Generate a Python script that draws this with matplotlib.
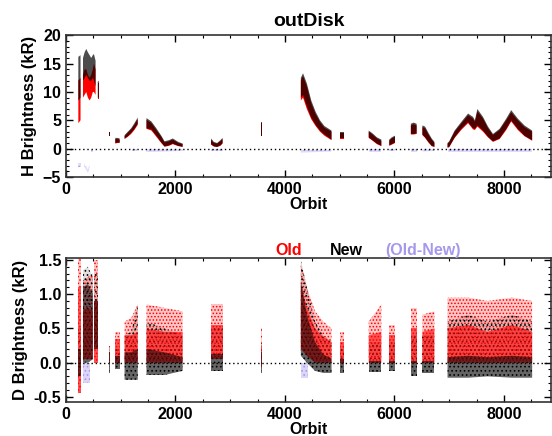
import matplotlib
matplotlib.use("Agg")
import matplotlib.pyplot as plt
import numpy as np
from matplotlib.ticker import MultipleLocator

plt.rcParams['font.family'] = ['Liberation Sans', 'DejaVu Sans']
plt.rcParams['font.weight'] = 'bold'
plt.rcParams['hatch.linewidth'] = 0.7

nan = np.nan

# H panel: orbit anchors (nan = gap between observing periods), new (black) and old (red) envelopes
h_orbit = [225, 265, nan, 310, 340, 370, 400, 430, 460, 490, 510, 540, nan, 580, 600, nan,
           790, 810, nan, 900, 940, 980, nan, 1070, 1130, 1190, 1250, 1310, nan,
           1470, 1560, 1650, 1740, 1800, 1880, 1950, 2050, 2130, nan,
           2650, 2700, 2760, 2820, 2860, nan, 3555, 3575, nan,
           4290, 4330, 4400, 4480, 4560, 4640, 4720, 4850, nan, 5010, 5070, nan,
           5530, 5600, 5680, 5760, nan, 5905, 5950, 6010, nan, 6300, 6350, 6405, nan,
           6510, 6560, 6620, 6680, 6730, nan,
           6970, 7000, 7100, 7220, 7345, 7436, 7470, 7515, 7618, 7709, 7800, 7921, 8042, 8133, 8254, 8375, 8515]
h_new_lo = [8.5, 9.0, nan, 12.0, 12.5, 13.0, 12.5, 12.0, 12.0, 12.5, 12.0, 11.0, nan, 9.0, 9.0, nan,
            2.3, 2.3, nan, 1.0, 1.1, 1.1, nan, 1.8, 2.2, 2.8, 3.5, 4.4, nan,
            3.6, 3.4, 2.3, 1.1, 0.4, 0.6, 0.9, 0.5, 0.35, nan,
            0.8, 0.4, 0.3, 0.6, 1.0, nan, 2.3, 2.3, nan,
            9.0, 9.5, 7.5, 5.5, 4.2, 3.2, 2.5, 1.6, nan, 1.8, 1.8, nan,
            2.0, 1.5, 0.9, 0.5, nan, 0.6, 0.8, 1.1, nan, 2.6, 2.6, 2.7, nan,
            2.5, 2.0, 1.2, 0.5, 0.35, nan,
            0.2, 0.3, 2.0, 3.5, 4.7, 3.6, 3.5, 4.1, 3.2, 2.1, 1.3, 1.8, 3.5, 5.0, 3.5, 2.3, 1.5]
h_new_hi = [16.2, 16.5, nan, 16.0, 17.0, 17.6, 17.0, 16.5, 16.0, 16.5, 16.7, 15.5, nan, 11.8, 12.0, nan,
            3.0, 3.0, nan, 1.9, 1.9, 1.8, nan, 2.4, 3.0, 3.6, 4.5, 5.5, nan,
            5.4, 4.8, 3.6, 2.3, 1.3, 1.5, 1.8, 1.2, 0.9, nan,
            1.8, 1.2, 1.0, 1.5, 1.9, nan, 4.7, 4.7, nan,
            12.5, 13.3, 11.5, 8.5, 6.5, 5.0, 4.0, 3.2, nan, 3.0, 3.0, nan,
            3.2, 2.7, 2.0, 1.6, nan, 1.6, 2.0, 2.3, nan, 4.4, 4.6, 4.4, nan,
            4.1, 3.9, 2.8, 1.8, 1.2, nan,
            1.0, 1.3, 3.2, 4.7, 6.2, 5.6, 5.0, 7.0, 5.6, 3.9, 2.6, 3.5, 5.3, 6.8, 5.3, 4.1, 3.2]
h_old_lo = [4.5, 5.0, nan, 9.0, 9.5, 10.0, 9.0, 8.5, 9.0, 10.0, 10.0, 9.5, nan, 8.8, 8.8, nan,
            2.3, 2.3, nan, 0.9, 1.0, 1.0, nan, 1.7, 2.1, 2.6, 3.3, 4.2, nan,
            3.5, 3.2, 2.1, 1.0, 0.35, 0.5, 0.8, 0.45, 0.3, nan,
            0.7, 0.4, 0.3, 0.5, 0.9, nan, 2.3, 2.3, nan,
            8.5, 9.0, 7.0, 5.2, 4.0, 3.0, 2.3, 1.5, nan, 1.7, 1.7, nan,
            1.9, 1.4, 0.8, 0.45, nan, 0.5, 0.7, 1.0, nan, 2.5, 2.5, 2.6, nan,
            2.4, 1.9, 1.1, 0.45, 0.3, nan,
            0.2, 0.25, 1.9, 3.3, 4.5, 3.4, 3.3, 3.9, 3.0, 2.0, 1.2, 1.7, 3.3, 4.8, 3.3, 2.2, 1.4]
h_old_hi = [12.0, 12.5, nan, 13.0, 14.0, 14.0, 13.0, 12.5, 13.0, 14.0, 15.0, 14.0, nan, 11.5, 11.5, nan,
            2.9, 2.9, nan, 1.7, 1.7, 1.6, nan, 2.2, 2.8, 3.4, 4.2, 5.2, nan,
            5.1, 4.5, 3.3, 2.1, 1.1, 1.3, 1.6, 1.0, 0.8, nan,
            1.6, 1.0, 0.9, 1.3, 1.7, nan, 4.5, 4.5, nan,
            12.0, 12.8, 11.0, 8.0, 6.1, 4.7, 3.7, 3.0, nan, 2.8, 2.8, nan,
            3.0, 2.5, 1.8, 1.4, nan, 1.4, 1.8, 2.1, nan, 4.1, 4.3, 4.1, nan,
            3.8, 3.6, 2.5, 1.6, 1.0, nan,
            0.9, 1.1, 3.0, 4.4, 5.9, 5.3, 4.7, 6.6, 5.3, 3.6, 2.4, 3.3, 5.0, 6.4, 5.0, 3.8, 3.0]

# H panel difference (Old-New)
hd_orbit = [225, 265, nan, 330, 370, 400, 430, nan, 460, 500, nan, 790, 810, nan, 1200, 1300, nan,
            1470, 2130, nan, 2650, 2860, nan, 4290, 4850, nan, 5530, 5760, nan, 5905, 6010, nan,
            6300, 6405, nan, 6510, 6730, nan, 6970, 8515]
hd_lo = [-3.3, -3.3, nan, -3.1, -3.7, -4.3, -3.3, nan, -0.6, -0.6, nan, -0.3, -0.3, nan, -0.4, -0.4, nan,
         -0.6, -0.4, nan, -0.4, -0.4, nan, -0.7, -0.5, nan, -0.5, -0.5, nan, -0.4, -0.4, nan,
         -0.5, -0.5, nan, -0.5, -0.4, nan, -0.6, -0.6]
hd_hi = [-2.6, -2.6, nan, -2.7, -3.2, -3.7, -2.8, nan, -0.2, -0.2, nan, 0.0, 0.0, nan, -0.1, -0.1, nan,
         -0.1, -0.1, nan, -0.1, -0.1, nan, -0.2, -0.2, nan, -0.1, -0.1, nan, -0.1, -0.1, nan,
         -0.1, -0.1, nan, -0.1, -0.1, nan, -0.1, -0.1]

# D panel: full (sparse) extent and top of the dense core for old and new
d_orbit = [225, 265, nan, 310, 400, 490, nan, 510, 590, nan, 790, 810, nan, 900, 980, nan,
           1070, 1190, 1310, nan, 1470, 1800, 2130, nan, 2650, 2860, nan, 3555, 3575, nan,
           4290, 4400, 4550, 4700, 4850, nan, 5010, 5070, nan, 5530, 5760, nan, 5905, 6010, nan,
           6300, 6405, nan, 6510, 6730, nan, 6970, 7350, 7700, 8150, 8515]
d_old_lo = [-0.45, -0.45, nan, 0.05, 0.05, 0.05, nan, 0.0, 0.0, nan, 0.0, 0.0, nan, 0.0, 0.0, nan,
            0.0, 0.0, 0.0, nan, 0.0, 0.0, 0.0, nan, 0.05, 0.05, nan, -0.05, -0.05, nan,
            0.2, 0.1, 0.0, 0.0, 0.0, nan, 0.0, 0.0, nan, 0.0, 0.0, nan, 0.0, 0.0, nan,
            0.0, 0.0, nan, 0.0, 0.0, nan, 0.0, 0.0, 0.0, 0.0, 0.0]
d_old_hi = [1.55, 1.55, nan, 1.2, 1.25, 1.3, nan, 1.5, 1.5, nan, 0.25, 0.25, nan, 0.45, 0.45, nan,
            0.6, 0.65, 0.85, nan, 0.85, 0.8, 0.75, nan, 0.85, 0.85, nan, 0.5, 0.5, nan,
            1.45, 1.1, 0.75, 0.6, 0.5, nan, 0.45, 0.45, nan, 0.6, 0.85, nan, 0.55, 0.55, nan,
            0.8, 0.8, nan, 0.7, 0.75, nan, 0.95, 0.95, 0.9, 0.95, 0.9]
d_old_core = [1.1, 1.1, nan, 0.75, 0.8, 0.75, nan, 0.9, 0.9, nan, 0.15, 0.15, nan, 0.35, 0.35, nan,
              0.4, 0.4, 0.45, nan, 0.5, 0.45, 0.45, nan, 0.55, 0.55, nan, 0.25, 0.25, nan,
              1.15, 0.8, 0.5, 0.38, 0.3, nan, 0.3, 0.3, nan, 0.4, 0.45, nan, 0.4, 0.4, nan,
              0.5, 0.5, nan, 0.45, 0.5, nan, 0.5, 0.55, 0.45, 0.55, 0.45]
d_new_lo = [-0.2, -0.2, nan, 0.0, 0.0, 0.05, nan, 0.2, 0.2, nan, -0.15, -0.15, nan, -0.1, -0.1, nan,
            -0.25, -0.25, -0.25, nan, -0.18, -0.18, -0.12, nan, -0.12, -0.12, nan, -0.15, -0.15, nan,
            0.1, 0.0, -0.12, -0.15, -0.15, nan, -0.15, -0.15, nan, -0.13, -0.13, nan, -0.12, -0.12, nan,
            -0.2, -0.2, nan, -0.15, -0.15, nan, -0.22, -0.22, -0.2, -0.22, -0.22]
d_new_hi = [0.5, 0.5, nan, 1.35, 1.4, 1.25, nan, 1.3, 1.3, nan, 0.25, 0.25, nan, 0.2, 0.2, nan,
            0.4, 0.45, 0.85, nan, 0.6, 0.5, 0.4, nan, 0.5, 0.5, nan, 0.3, 0.3, nan,
            1.5, 1.1, 0.6, 0.4, 0.3, nan, 0.2, 0.2, nan, 0.3, 0.3, nan, 0.3, 0.3, nan,
            0.4, 0.4, nan, 0.4, 0.4, nan, 0.6, 0.7, 0.6, 0.7, 0.6]
d_new_core = [0.2, 0.2, nan, 1.1, 1.15, 1.0, nan, 0.9, 0.9, nan, 0.15, 0.15, nan, 0.1, 0.1, nan,
              0.15, 0.15, 0.2, nan, 0.2, 0.15, 0.08, nan, 0.12, 0.12, nan, 0.15, 0.15, nan,
              1.2, 0.7, 0.3, 0.12, 0.06, nan, 0.05, 0.05, nan, 0.03, 0.03, nan, 0.03, 0.03, nan,
              0.03, 0.03, nan, 0.03, 0.03, nan, 0.08, 0.1, 0.08, 0.1, 0.08]
dd_orbit = [310, 430, nan, 4290, 4420]
dd_lo = [-0.3, -0.3, nan, -0.22, -0.22]
dd_hi = [0.0, 0.0, nan, 0.0, 0.0]

RED = '#ff0000'
PURPLE = '#a898ec'


def band(ax, x, lo, hi, color, alpha, hatch=None):
    x = np.array(x, dtype=float)
    lo = np.array(lo, dtype=float)
    hi = np.array(hi, dtype=float)
    ax.fill_between(x, lo, hi, facecolor=color, alpha=alpha, linewidth=0)
    if hatch:
        ax.fill_between(x, lo, hi, facecolor='none', edgecolor=color, hatch=hatch, linewidth=0)


def style(ax):
    ax.set_xlim(0, 8860)
    ax.xaxis.set_major_locator(MultipleLocator(2000))
    ax.xaxis.set_minor_locator(MultipleLocator(500))
    ax.tick_params(which='both', direction='in', top=True, right=True, labelsize=11.5)
    ax.tick_params(which='major', length=5, width=1)
    ax.tick_params(which='minor', length=2.5, width=0.8)
    for s in ax.spines.values():
        s.set_linewidth(1.2)
        s.set_color('#333333')
    ax.axhline(0, color='black', linestyle=(0, (1, 2)), linewidth=1)
    ax.set_xlabel('Orbit', fontsize=11.5, fontweight='bold', labelpad=0)


fig = plt.figure(figsize=(5.52, 4.36), dpi=100)
ax1 = fig.add_axes([0.1196, 0.594, 0.8786, 0.325])
ax2 = fig.add_axes([0.1196, 0.0787, 0.8786, 0.330])

band(ax1, h_orbit, h_old_lo, h_old_hi, RED, 1.0)
band(ax1, h_orbit, h_new_lo, h_new_hi, 'black', 0.7)
band(ax1, hd_orbit, hd_lo, hd_hi, PURPLE, 0.35, '....')
style(ax1)
ax1.set_ylim(-5, 20)
ax1.yaxis.set_major_locator(MultipleLocator(5))
ax1.yaxis.set_minor_locator(MultipleLocator(1))
ax1.set_ylabel('H Brightness (kR)', fontsize=12, fontweight='bold', labelpad=4)
ax1.set_title('outDisk', fontsize=14, fontweight='bold', pad=7)

# sparse envelopes first, dense cores on top
band(ax2, d_orbit, d_old_lo, d_old_hi, RED, 0.22, '.....')
band(ax2, d_orbit, d_new_lo, d_new_hi, 'black', 0.12, '....')
band(ax2, d_orbit, d_old_lo, d_old_core, RED, 0.6)
band(ax2, d_orbit, d_new_lo, d_new_core, 'black', 0.55)
band(ax2, dd_orbit, dd_lo, dd_hi, PURPLE, 0.4, '....')
style(ax2)
ax2.set_ylim(-0.57, 1.53)
ax2.yaxis.set_major_locator(MultipleLocator(0.5))
ax2.yaxis.set_minor_locator(MultipleLocator(0.1))
ax2.yaxis.set_major_formatter(plt.FormatStrFormatter('%.1f'))
ax2.set_ylabel('D Brightness (kR)', fontsize=12, fontweight='bold', labelpad=4)

fig.text(275 / 552, 1 - 250 / 436, 'Old', color=RED, fontsize=11.5, fontweight='bold', va='center')
fig.text(330 / 552, 1 - 250 / 436, 'New', color='black', fontsize=11.5, fontweight='bold', va='center')
fig.text(385 / 552, 1 - 250 / 436, '(Old-New)', color=PURPLE, fontsize=11.5, fontweight='bold', va='center')

fig.savefig('out.png', dpi=100)
